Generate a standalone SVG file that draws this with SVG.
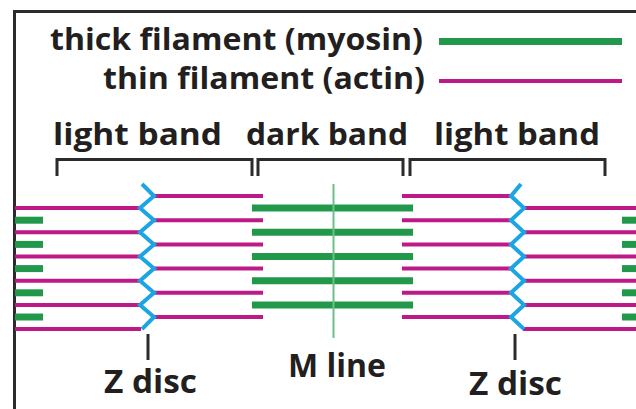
<svg xmlns="http://www.w3.org/2000/svg" width="636" height="409" viewBox="0 0 636 409">
  <defs>
    <style>
      .lbl { font-family: "Open Sans", "Liberation Sans", sans-serif; font-weight: 700; fill: #231f20; }
      .frame { fill: none; stroke: #2b2b2b; stroke-width: 3; }
      .bracket { fill: none; stroke: #2b2b2b; stroke-width: 3; }
      .tick { stroke: #2b2b2b; stroke-width: 3; }
      .thin { stroke: #bd1a87; stroke-width: 4; }
      .thick { stroke: #22994a; stroke-width: 7; }
      .zdisc { fill: none; stroke: #1ba5e2; stroke-width: 4; stroke-linejoin: miter; }
      .mline { stroke: #6cbf86; stroke-width: 2; }
    </style>
  </defs>

  <rect width="636" height="409" fill="#ffffff"/>

  <!-- outer frame: top and left edges -->
  <polyline class="frame" points="14.5,409 14.5,11.5 636,11.5"/>

  <!-- legend -->
  <g id="legend">
    <text class="lbl" x="50" y="50" font-size="31" textLength="373" lengthAdjust="spacingAndGlyphs">thick filament (myosin)</text>
    <line class="thick" x1="439" y1="41.5" x2="622" y2="41.5"/>
    <text class="lbl" x="103" y="89" font-size="31" textLength="322" lengthAdjust="spacingAndGlyphs">thin filament (actin)</text>
    <line class="thin" x1="439" y1="81" x2="622" y2="81"/>
  </g>

  <!-- band brackets -->
  <g id="band-left">
    <text class="lbl" x="53" y="145" font-size="31" textLength="169" lengthAdjust="spacingAndGlyphs">light band</text>
    <polyline class="bracket" points="57,176 57,159.5 252,159.5 252,176"/>
  </g>
  <g id="band-dark">
    <text class="lbl" x="246" y="145" font-size="31" textLength="162" lengthAdjust="spacingAndGlyphs">dark band</text>
    <polyline class="bracket" points="258,176 258,159.5 403,159.5 403,176"/>
  </g>
  <g id="band-right">
    <text class="lbl" x="434" y="145" font-size="31" textLength="166" lengthAdjust="spacingAndGlyphs">light band</text>
    <polyline class="bracket" points="410,176 410,159.5 605,159.5 605,176"/>
  </g>

  <!-- filaments -->
  <g id="filaments">
    <!-- thin filaments left of the first Z disc -->
    <g id="thin-outer-left">
      <line class="thin" x1="15" y1="208.1" x2="141" y2="208.1"/>
      <line class="thin" x1="15" y1="232.3" x2="141" y2="232.3"/>
      <line class="thin" x1="15" y1="256.5" x2="141" y2="256.5"/>
      <line class="thin" x1="15" y1="280.7" x2="141" y2="280.7"/>
      <line class="thin" x1="15" y1="304.9" x2="141" y2="304.9"/>
      <line class="thin" x1="15" y1="329.1" x2="141" y2="329.1"/>
    </g>
    <!-- thick filament ends at the left edge -->
    <g id="thick-outer-left">
      <line class="thick" x1="15" y1="220.2" x2="43" y2="220.2"/>
      <line class="thick" x1="15" y1="244.4" x2="43" y2="244.4"/>
      <line class="thick" x1="15" y1="268.6" x2="43" y2="268.6"/>
      <line class="thick" x1="15" y1="292.8" x2="43" y2="292.8"/>
      <line class="thick" x1="15" y1="317" x2="43" y2="317"/>
    </g>
    <!-- thin filaments of the sarcomere, left half -->
    <g id="thin-inner-left">
      <line class="thin" x1="153" y1="196" x2="263" y2="196"/>
      <line class="thin" x1="153" y1="220.2" x2="263" y2="220.2"/>
      <line class="thin" x1="153" y1="244.4" x2="263" y2="244.4"/>
      <line class="thin" x1="153" y1="268.6" x2="263" y2="268.6"/>
      <line class="thin" x1="153" y1="292.8" x2="263" y2="292.8"/>
      <line class="thin" x1="153" y1="317" x2="263" y2="317"/>
    </g>
    <!-- thin filaments of the sarcomere, right half -->
    <g id="thin-inner-right">
      <line class="thin" x1="402" y1="196" x2="512" y2="196"/>
      <line class="thin" x1="402" y1="220.2" x2="512" y2="220.2"/>
      <line class="thin" x1="402" y1="244.4" x2="512" y2="244.4"/>
      <line class="thin" x1="402" y1="268.6" x2="512" y2="268.6"/>
      <line class="thin" x1="402" y1="292.8" x2="512" y2="292.8"/>
      <line class="thin" x1="402" y1="317" x2="512" y2="317"/>
    </g>
    <!-- thick filaments of the A band -->
    <g id="thick-center">
      <line class="thick" x1="252" y1="208.1" x2="413" y2="208.1"/>
      <line class="thick" x1="252" y1="232.3" x2="413" y2="232.3"/>
      <line class="thick" x1="252" y1="256.5" x2="413" y2="256.5"/>
      <line class="thick" x1="252" y1="280.7" x2="413" y2="280.7"/>
      <line class="thick" x1="252" y1="304.9" x2="413" y2="304.9"/>
    </g>
    <!-- thin filaments right of the second Z disc -->
    <g id="thin-outer-right">
      <line class="thin" x1="523" y1="208.1" x2="636" y2="208.1"/>
      <line class="thin" x1="523" y1="232.3" x2="636" y2="232.3"/>
      <line class="thin" x1="523" y1="256.5" x2="636" y2="256.5"/>
      <line class="thin" x1="523" y1="280.7" x2="636" y2="280.7"/>
      <line class="thin" x1="523" y1="304.9" x2="636" y2="304.9"/>
      <line class="thin" x1="523" y1="329.1" x2="636" y2="329.1"/>
    </g>
    <!-- thick filament ends at the right edge -->
    <g id="thick-outer-right">
      <line class="thick" x1="622" y1="220.2" x2="636" y2="220.2"/>
      <line class="thick" x1="622" y1="244.4" x2="636" y2="244.4"/>
      <line class="thick" x1="622" y1="268.6" x2="636" y2="268.6"/>
      <line class="thick" x1="622" y1="292.8" x2="636" y2="292.8"/>
      <line class="thick" x1="622" y1="317" x2="636" y2="317"/>
    </g>
  </g>

  <!-- M line -->
  <g id="m-line">
    <line class="mline" x1="333.5" y1="184" x2="333.5" y2="338"/>
    <text class="lbl" x="288" y="377" font-size="33" textLength="98" lengthAdjust="spacingAndGlyphs">M line</text>
  </g>

  <!-- Z discs -->
  <g id="z-disc-left">
    <polyline class="zdisc" points="142,184 154,196 140,208.1 154,220.2 140,232.3 154,244.4 140,256.5 154,268.6 140,280.7 154,292.8 140,304.9 154,317 142,329.1"/>
    <line class="tick" x1="148" y1="334" x2="148" y2="360"/>
    <text class="lbl" x="104" y="393" font-size="33" textLength="93" lengthAdjust="spacingAndGlyphs">Z disc</text>
  </g>
  <g id="z-disc-right">
    <polyline class="zdisc" points="521,184 511,196 524,208.1 511,220.2 524,232.3 511,244.4 524,256.5 511,268.6 524,280.7 511,292.8 524,304.9 511,317 524,329.1"/>
    <line class="tick" x1="515" y1="334" x2="515" y2="360"/>
    <text class="lbl" x="469" y="395" font-size="33" textLength="93" lengthAdjust="spacingAndGlyphs">Z disc</text>
  </g>
</svg>
